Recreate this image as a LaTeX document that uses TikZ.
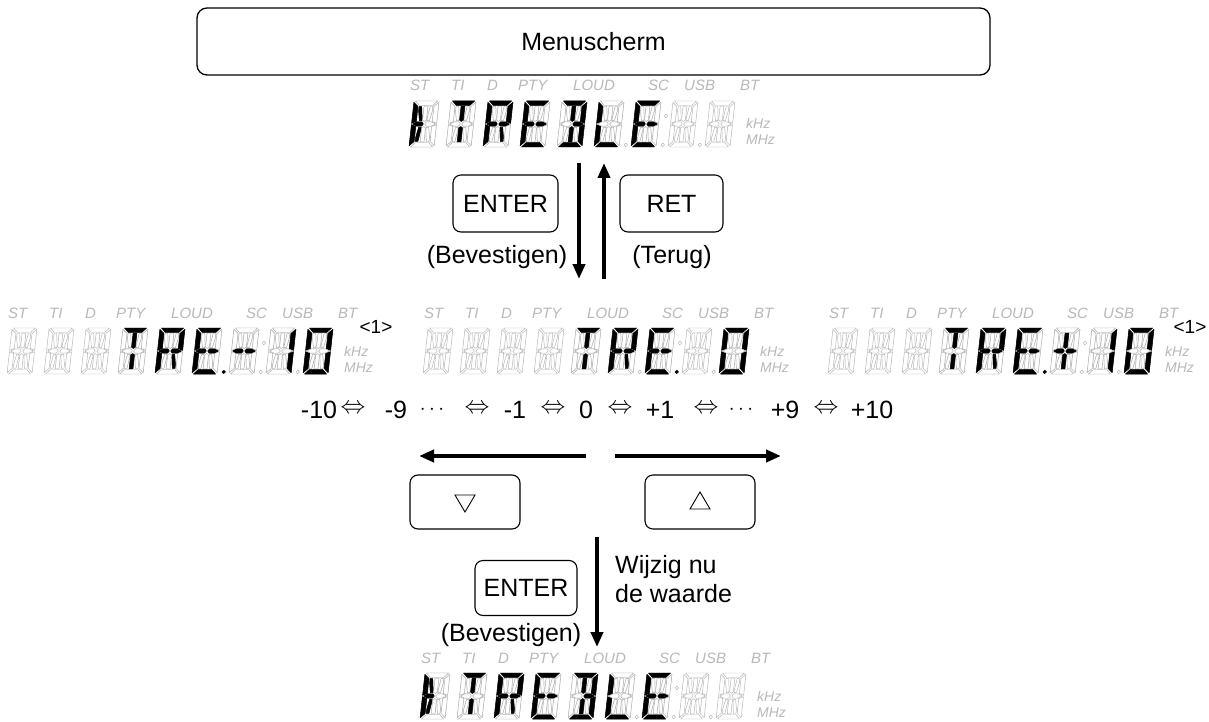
\documentclass[tikz,border=0pt]{standalone}
\usepackage{fontspec}
\setmainfont{Liberation Sans}
\usetikzlibrary{arrows.meta}

% 14-segment geometry (local units, cell 20 x 40, y up)
\def\segA{(1.2,40)--(18.8,40)--(15.5,36.3)--(4.5,36.3)--cycle}
\def\segD{(1.2,0)--(18.8,0)--(15.5,3.7)--(4.5,3.7)--cycle}
\def\segF{(0,38.8)--(3.6,35.2)--(3.6,22.2)--(0,20.6)--cycle}
\def\segE{(0,19.4)--(3.6,17.8)--(3.6,4.8)--(0,1.2)--cycle}
\def\segB{(20,38.8)--(16.4,35.2)--(16.4,22.2)--(20,20.6)--cycle}
\def\segC{(20,19.4)--(16.4,17.8)--(16.4,4.8)--(20,1.2)--cycle}
\def\segG{(1,20)--(4.3,21.9)--(8.1,21.9)--(9.4,20)--(8.1,18.1)--(4.3,18.1)--cycle}
\def\segP{(19,20)--(15.7,21.9)--(11.9,21.9)--(10.6,20)--(11.9,18.1)--(15.7,18.1)--cycle}
\def\segI{(8.5,35.6)--(11.5,35.6)--(11.5,23.4)--(10,22.2)--(8.5,23.4)--cycle}
\def\segL{(8.5,4.4)--(11.5,4.4)--(11.5,16.6)--(10,17.8)--(8.5,16.6)--cycle}
\def\segH{(4.5,35.2)--(6.6,35.2)--(7.9,25.5)--(7.9,23)--(6,23)--(4.5,31.5)--cycle}
\def\segJ{(15.5,35.2)--(13.4,35.2)--(12.1,25.5)--(12.1,23)--(14,23)--(15.5,31.5)--cycle}
\def\segK{(4.5,4.8)--(6.6,4.8)--(7.9,14.5)--(7.9,17)--(6,17)--(4.5,8.5)--cycle}
\def\segN{(15.5,4.8)--(13.4,4.8)--(12.1,14.5)--(12.1,17)--(14,17)--(15.5,8.5)--cycle}
\def\segZ{(0,0)}

\tikzset{
  unlit/.style={draw=black!30, fill=white, line width=0.45pt, line join=round},
  litseg/.style={fill=black, draw=black, line width=0.5pt, line join=round},
  offdot/.style={draw=black!30, fill=white, line width=0.45pt},
  ondot/.style={draw=black, fill=black, line width=0.3pt},
  lbl/.style={font=\fontsize{15}{15}\selectfont\itshape, text=black!28, inner sep=0pt, anchor=base west},
  unitlbl/.style={font=\fontsize{14}{14}\selectfont\itshape, text=black!28, inner sep=0pt, anchor=base west},
  txt/.style={font=\fontsize{25}{27}\selectfont, inner sep=0pt},
  btn/.style={draw=black, line width=1.1pt, rounded corners=8pt, inner sep=0pt,
              font=\fontsize{25}{27}\selectfont},
  bigarrow/.style={line width=4pt, -{Triangle[length=15pt,width=12pt]}},
  tagtxt/.style={font=\fontsize{19}{19}\selectfont, inner sep=0pt},
  dblarrow/.style={font=\fontsize{29}{29}\selectfont, inner sep=0pt},
  dotstxt/.style={font=\fontsize{22}{22}\selectfont, inner sep=0pt},
  trisym/.style={draw=black, line width=0.9pt, line join=miter},
}

\newcommand\lcdcell[3]{%
  \begin{scope}[shift={(#1,#2)},xslant=0.11,x=1.25pt,y=1.15pt]
    \foreach \s in {A,B,C,D,E,F,G,P,H,I,J,K,L,N}{%
      \expandafter\let\expandafter\cursegpath\csname seg\s\endcsname
      \draw[unlit] \cursegpath;}
    \foreach \s in {#3}{%
      \expandafter\let\expandafter\cursegpath\csname seg\s\endcsname
      \filldraw[litseg] \cursegpath;}
  \end{scope}}

\newcommand\lcddot[4]{%
  \begin{scope}[shift={(#1,#2)},xslant=0.11,x=1.25pt,y=1.15pt]
    \filldraw[#4] (25.2,#3) circle[radius=1.8pt];
  \end{scope}}

\newcommand\lcd[3]{% name, x0, y bottom of digits
  \foreach \t/\d in {ST/1,TI/42,D/78,PTY/109,LOUD/164,SC/239,USB/275,BT/331}{%
    \node[lbl] (#1\t) at ({#2+\d},{#3-56}) {\t};}
  \foreach \n in {0,...,8}{\lcdcell{#2+37*\n}{#3}{Z}}
  \lcddot{#2+185}{#3}{1.8}{offdot}
  \lcddot{#2+222}{#3}{1.8}{offdot}
  \lcddot{#2+222}{#3}{27}{offdot}
  \lcddot{#2+259}{#3}{1.8}{offdot}
  \node[unitlbl] (#1k) at ({#2+337},{#3-18}) {kHz};
  \node[unitlbl] (#1m) at ({#2+337},{#3-2}) {MHz};
}

\newcommand\treble[2]{% x0, ybottom
  \lcd{tr#1}{#1}{#2}
  \lcdcell{#1}{#2}{F,E,H,K,G}
  \lcdcell{#1+37}{#2}{A,I,L}
  \lcdcell{#1+74}{#2}{A,B,F,G,P,E,N}
  \lcdcell{#1+111}{#2}{A,F,G,P,E,D}
  \lcdcell{#1+148}{#2}{A,B,C,D,P,I,L}
  \lcdcell{#1+185}{#2}{F,E,D}
  \lcdcell{#1+222}{#2}{A,F,G,P,E,D}
}

\begin{document}
\begin{tikzpicture}[x=1pt,y=-1pt]
\useasboundingbox (0,0) rectangle (1209,722);

% menu screen
\node[btn, rounded corners=10pt, line width=1.3pt, minimum width=793pt, minimum height=67pt] (menu) at (593.5,41.5) {Menuscherm};

% top display
\treble{409}{147}

% top arrows and buttons
\coordinate (d1s) at (579,163); \coordinate (d1e) at (579,279);
\coordinate (u1s) at (604,279); \coordinate (u1e) at (604,163);
\draw[bigarrow] (d1s) -- (d1e);
\draw[bigarrow] (u1s) -- (u1e);
\node[btn, minimum width=105pt, minimum height=57pt] (enter1) at (505.5,203.5) {ENTER};
\node[btn, minimum width=103pt, minimum height=57pt] (ret) at (671.5,203.5) {RET};
\node[txt] (bev1) at (497,257) {(Bevestigen)};
\node[txt] (terug) at (672,257) {(Terug)};

% middle displays
\lcd{L}{7}{374}
\lcdcell{7+111}{374}{A,I,L}
\lcdcell{7+148}{374}{A,B,F,G,P,E,N}
\lcdcell{7+185}{374}{A,F,G,P,E,D}
\lcddot{7+185}{374}{1.8}{ondot}
\lcdcell{7+222}{374}{G,P}
\lcdcell{7+259}{374}{B,C}
\lcdcell{7+296}{374}{A,B,C,D,E,F}
\node[tagtxt] (tagL) at (376,327) {<1>};

\lcd{M}{423}{374}
\lcdcell{423+148}{374}{A,I,L}
\lcdcell{423+185}{374}{A,B,F,G,P,E,N}
\lcdcell{423+222}{374}{A,F,G,P,E,D}
\lcddot{423+222}{374}{1.8}{ondot}
\lcdcell{423+296}{374}{A,B,C,D,E,F}

\lcd{R}{828}{374}
\lcdcell{828+111}{374}{A,I,L}
\lcdcell{828+148}{374}{A,B,F,G,P,E,N}
\lcdcell{828+185}{374}{A,F,G,P,E,D}
\lcddot{828+185}{374}{1.8}{ondot}
\lcdcell{828+222}{374}{G,P,I,L}
\lcdcell{828+259}{374}{B,C}
\lcdcell{828+296}{374}{A,B,C,D,E,F}
\node[tagtxt] (tagR) at (1190,327) {<1>};

% value row
\foreach \i/\x/\t in {1/319/-10, 3/396/-9, 6/515/-1, 8/586/0, 10/660/+1, 13/785/+9, 15/872/+10}{
  \node[txt] (v\i) at (\x,410) {\t};}
\foreach \i/\x in {2/353, 5/477, 7/553, 9/620, 11/706, 14/826}{
  \node[dblarrow] (v\i) at (\x,409) {$\Leftrightarrow$};}
\foreach \i/\x in {4/432, 12/741}{
  \node[dotstxt] (v\i) at (\x,410) {$\cdots$};}

% left/right arrows and buttons
\coordinate (las) at (586,456); \coordinate (lae) at (419,456);
\coordinate (ras) at (615,456); \coordinate (rae) at (781,456);
\draw[bigarrow] (las) -- (lae);
\draw[bigarrow] (ras) -- (rae);
\node[btn, minimum width=110pt, minimum height=54pt] (down) at (465,502) {};
\node[btn, minimum width=110pt, minimum height=54pt] (up) at (700,502) {};
\draw[trisym] ([shift={(-10,-7)}]down.center) -- ([shift={(10,-7)}]down.center) -- ([shift={(0,10)}]down.center) -- cycle;
\draw[trisym] ([shift={(-10,7)}]up.center) -- ([shift={(10,7)}]up.center) -- ([shift={(0,-10)}]up.center) -- cycle;

% bottom confirm
\coordinate (d2s) at (597,537); \coordinate (d2e) at (597,647);
\draw[bigarrow] (d2s) -- (d2e);
\node[btn, minimum width=102pt, minimum height=55pt] (enter2) at (526,588) {ENTER};
\node[txt] (bev2) at (511,635) {(Bevestigen)};
\node[txt, anchor=west] (wij1) at (615,567) {Wijzig nu};
\node[txt, anchor=west] (wij2) at (615,594) {de waarde};

% bottom display
\treble{420}{719}
\end{tikzpicture}
\end{document}
